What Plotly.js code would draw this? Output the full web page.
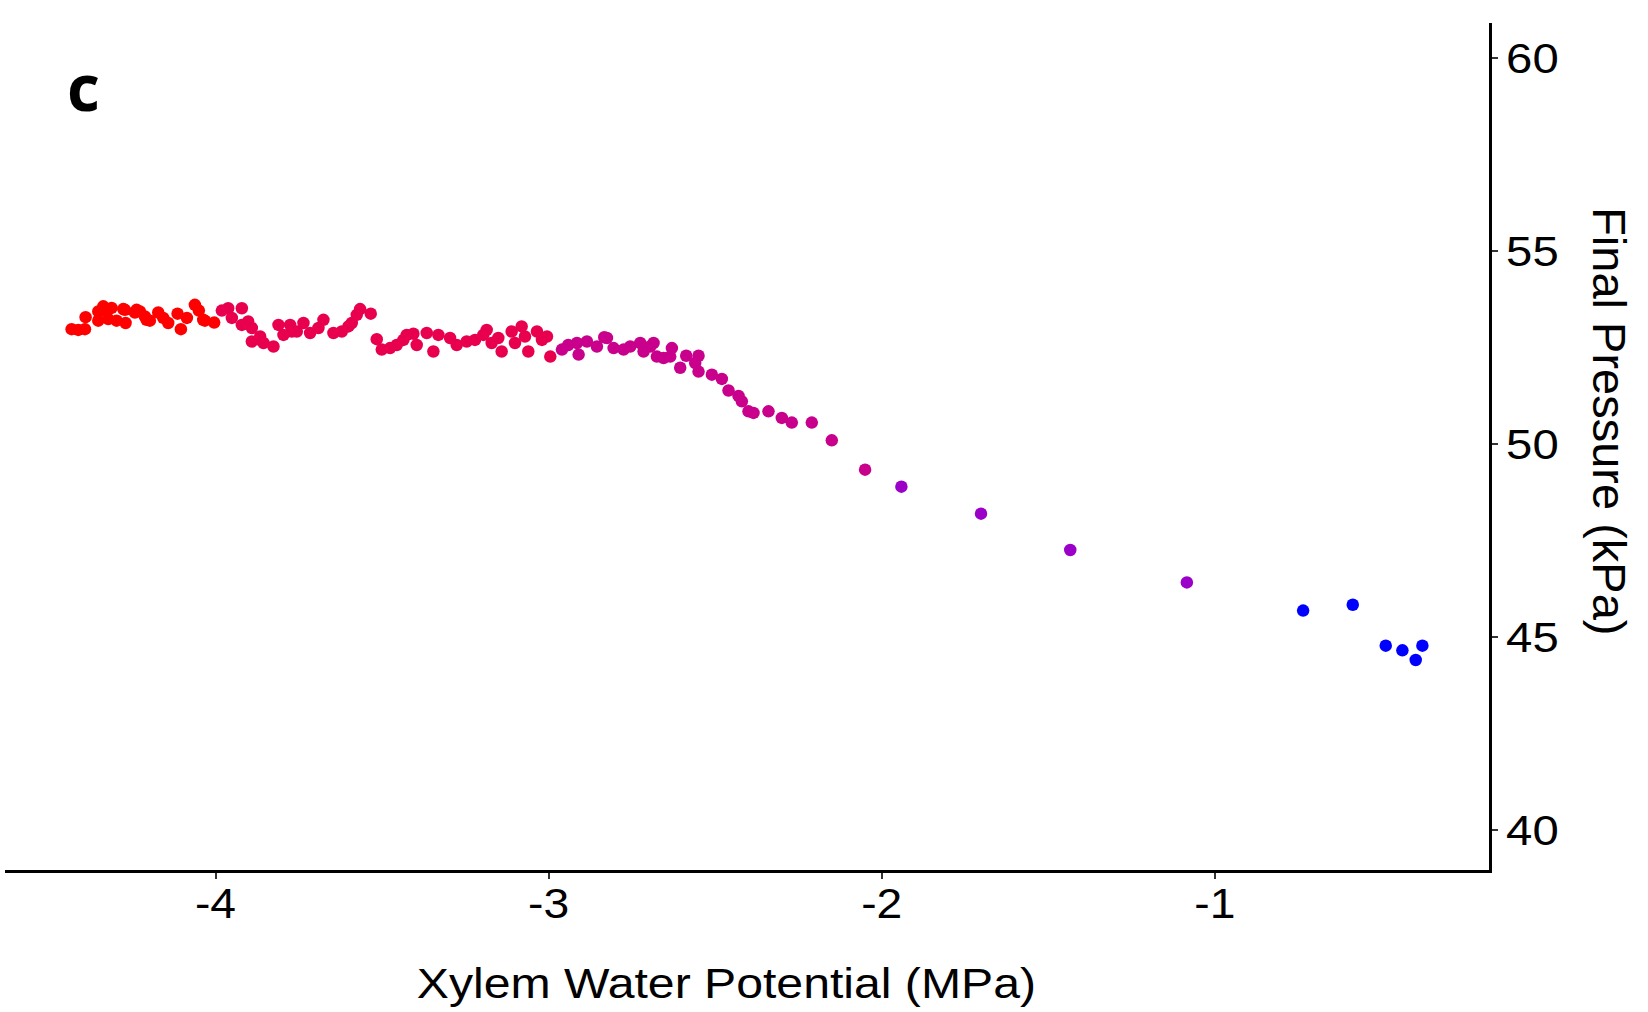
<!DOCTYPE html>
<html>
<head>
<meta charset="utf-8">
<script src="https://cdn.plot.ly/plotly-3.0.1.min.js"></script>
<style>
  html, body { margin: 0; padding: 0; background: #ffffff; }
  #chart { width: 1648px; height: 1012px; }
</style>
</head>
<body>
<div id="chart"></div>
<script>
// ---- data ----
var xRed = [-4.432, -4.412, -4.392, -4.390, -4.352, -4.352, -4.337, -4.327, -4.322, -4.312,
            -4.297, -4.277, -4.272, -4.270, -4.242, -4.237, -4.227, -4.212, -4.207, -4.197,
            -4.172, -4.157, -4.142, -4.114, -4.104, -4.086, -4.062, -4.050, -4.037, -4.032, -4.004];
var yRed = [52.97, 52.95, 52.97, 53.28, 53.19, 53.43, 53.56, 53.43, 53.23, 53.52,
            53.19, 53.49, 53.47, 53.13, 53.40, 53.47, 53.43, 53.30, 53.21, 53.19,
            53.40, 53.26, 53.13, 53.37, 52.97, 53.26, 53.60, 53.45, 53.21, 53.19, 53.14];

var xCrimson = [-3.981, -3.962, -3.951, -3.921, -3.921, -3.902, -3.891, -3.891, -3.866, -3.866,
                -3.856, -3.826, -3.811, -3.796, -3.776, -3.771, -3.756, -3.736, -3.716, -3.691,
                -3.676, -3.646, -3.621, -3.601, -3.591, -3.576, -3.566, -3.534, -3.516, -3.501,
                -3.476, -3.456, -3.436, -3.426, -3.406, -3.396, -3.366, -3.346, -3.331, -3.296,
                -3.276, -3.246, -3.221, -3.196, -3.186, -3.171, -3.151, -3.141, -3.111, -3.101,
                -3.081, -3.071, -3.061, -3.035, -3.020, -3.005, -2.995];
var yCrimson = [53.45, 53.51, 53.26, 53.51, 53.08, 53.17, 53.00, 52.65, 52.69, 52.78,
                52.61, 52.52, 53.08, 52.82, 53.08, 52.91, 52.91, 53.13, 52.87, 53.00,
                53.21, 52.87, 52.91, 53.04, 53.13, 53.34, 53.49, 53.37, 52.71, 52.44,
                52.48, 52.56, 52.69, 52.82, 52.85, 52.56, 52.87, 52.39, 52.82, 52.74,
                52.56, 52.65, 52.69, 52.82, 52.95, 52.61, 52.74, 52.39, 52.91, 52.61,
                53.04, 52.78, 52.39, 52.91, 52.69, 52.78, 52.26];

var xMagenta = [-2.960, -2.941, -2.915, -2.910, -2.885, -2.855, -2.833, -2.825, -2.805, -2.775,
                -2.755, -2.725, -2.715, -2.695, -2.685, -2.675, -2.655, -2.635, -2.630, -2.605,
                -2.587, -2.560, -2.550, -2.550, -2.510, -2.480, -2.460, -2.430, -2.420, -2.400,
                -2.385, -2.340, -2.300, -2.270, -2.210, -2.150, -2.050];
var yMagenta = [52.44, 52.56, 52.61, 52.31, 52.65, 52.52, 52.76, 52.74, 52.48, 52.44,
                52.52, 52.61, 52.39, 52.52, 52.61, 52.26, 52.22, 52.26, 52.48, 51.97,
                52.28, 52.09, 52.28, 51.87, 51.79, 51.68, 51.38, 51.24, 51.10, 50.84,
                50.80, 50.84, 50.67, 50.55, 50.55, 50.09, 49.33];

var xPurple = [-1.941, -1.702, -1.434, -1.084];
var yPurple = [48.89, 48.19, 47.25, 46.41];

var xBlue = [-0.735, -0.586, -0.487, -0.437, -0.397, -0.377];
var yBlue = [45.68, 45.83, 44.77, 44.65, 44.40, 44.77];

var xTickVals = [-4, -3, -2, -1];
var xTickText = ['-4', '-3', '-2', '-1'];
var yTickVals = [40, 45, 50, 55, 60];
var yTickText = ['40', '45', '50', '55', '60'];

var xTitle = 'Xylem Water Potential (MPa)';
var yTitle = 'Final Pressure (kPa)';
var panelLabel = 'c';

// ---- styles ----
var groupColors = ['#FF0000', '#E8004F', '#C8008C', '#9A00C8', '#0000FF'];
var FONT = '"Liberation Sans", Arial, Helvetica, sans-serif';

function pts(x, y, c) {
  return {
    type: 'scatter', mode: 'markers', x: x, y: y,
    marker: { color: c, size: 12.5, line: { width: 0 } },
    hoverinfo: 'x+y', showlegend: false
  };
}

var data = [
  pts(xRed, yRed, groupColors[0]),
  pts(xCrimson, yCrimson, groupColors[1]),
  pts(xMagenta, yMagenta, groupColors[2]),
  pts(xPurple, yPurple, groupColors[3]),
  pts(xBlue, yBlue, groupColors[4])
];

var layout = {
  width: 1648, height: 1012,
  margin: { l: 5, r: 159, t: 23, b: 142, pad: 0 },
  paper_bgcolor: '#ffffff', plot_bgcolor: '#ffffff',
  font: { family: FONT, color: '#000000' },
  xaxis: {
    range: [-4.632, -0.177],
    showgrid: false, zeroline: false,
    showline: true, linecolor: '#000000', linewidth: 2.5,
    ticks: 'outside', ticklen: 6, tickwidth: 2, tickcolor: '#333333',
    tickvals: xTickVals, ticktext: xTickText,
    tickfont: { family: FONT, size: 42, color: '#000000' },
    ticklabelstandoff: -11
  },
  yaxis: {
    range: [38.96, 60.9],
    side: 'right',
    showgrid: false, zeroline: false,
    showline: true, linecolor: '#000000', linewidth: 2.5,
    ticks: 'outside', ticklen: 6, tickwidth: 2, tickcolor: '#333333',
    tickvals: yTickVals, ticktext: yTickText,
    tickfont: { family: FONT, size: 43, color: '#000000' }
  },
  annotations: [
    {
      text: xTitle,
      xref: 'paper', yref: 'paper', x: 0.4865, y: -0.1334,
      xanchor: 'center', yanchor: 'middle', showarrow: false,
      font: { family: FONT, size: 43, color: '#000000' }
    },
    {
      text: yTitle, textangle: 90,
      xref: 'paper', yref: 'paper', x: 1.0815, y: 0.530,
      xanchor: 'center', yanchor: 'middle', showarrow: false,
      font: { family: FONT, size: 47, color: '#000000' }
    },
    {
      text: '<b>' + panelLabel + '</b>',
      xref: 'paper', yref: 'paper', x: 0.053, y: 0.925,
      xanchor: 'center', yanchor: 'middle', showarrow: false,
      font: { family: '"Open Sans", sans-serif', size: 64, color: '#000000' }
    }
  ]
};

Plotly.newPlot('chart', data, layout, { displayModeBar: false, staticPlot: true }).then(function (gd) {
  // the reference's horizontal texts are drawn wider than plain Arial; stretch them
  function stretch(sel, factor) {
    gd.querySelectorAll(sel).forEach(function (t) {
      var w = t.getComputedTextLength();
      if (w > 0) {
        t.setAttribute('textLength', (w * factor).toFixed(1));
        t.setAttribute('lengthAdjust', 'spacingAndGlyphs');
      }
    });
  }
  stretch('.xtick text', 1.1);
  stretch('.ytick text', 1.1);
  stretch('.annotation[data-index="0"] text', 1.12);
});
</script>
</body>
</html>
